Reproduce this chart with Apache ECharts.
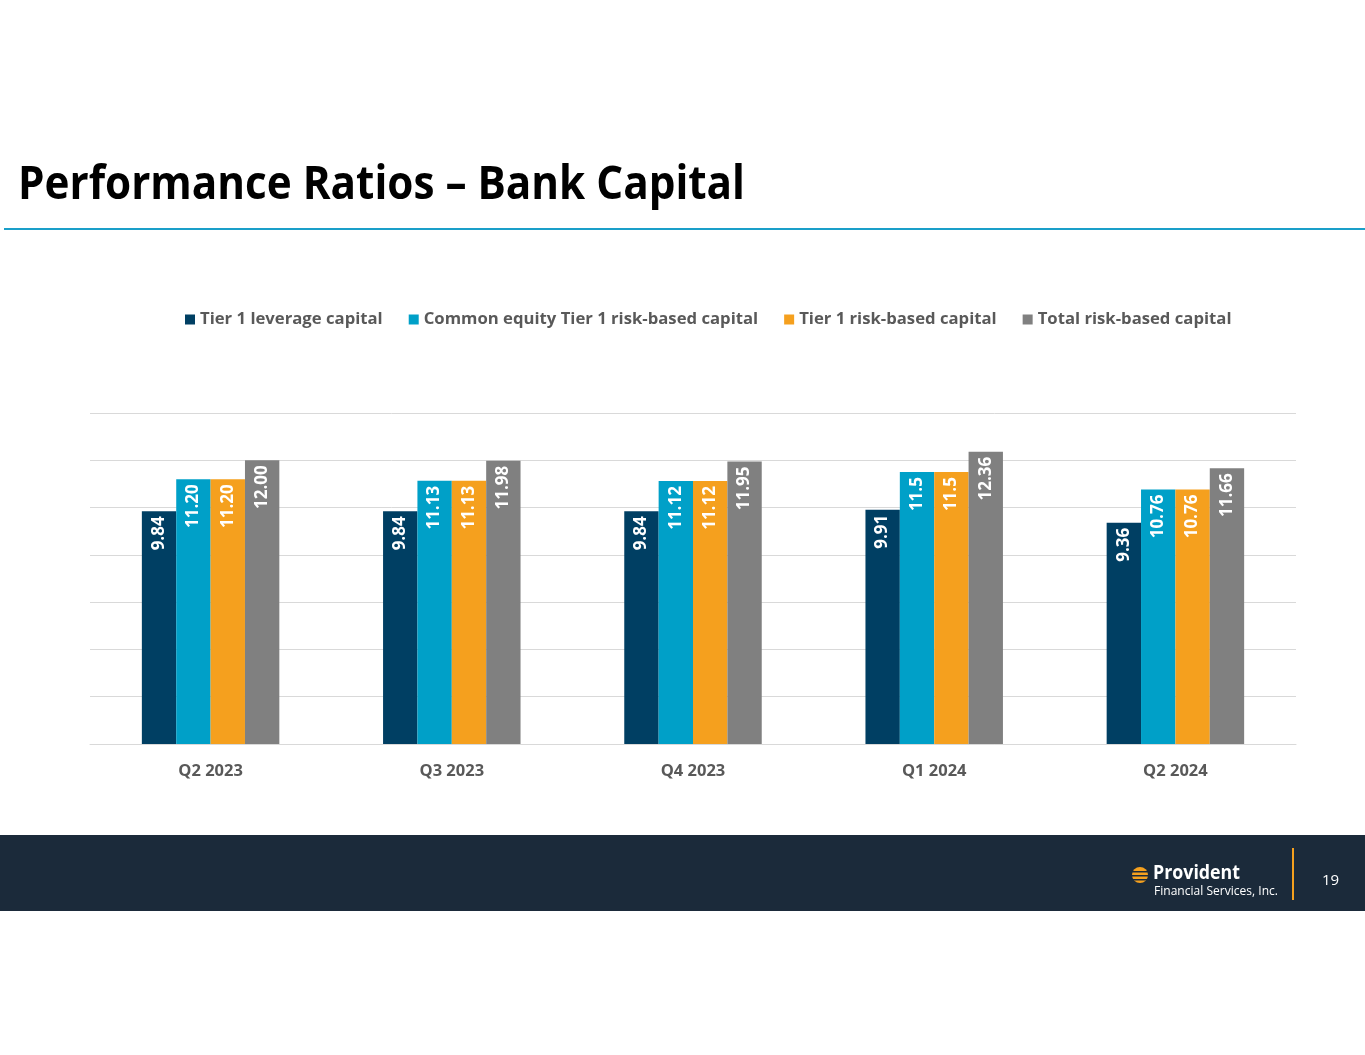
<!DOCTYPE html>
<html>
<head>
<meta charset="utf-8">
<script src="https://cdn.jsdelivr.net/npm/echarts@6/dist/echarts.min.js"></script>
<style>
html,body{margin:0;padding:0;background:#fff;}
#chart{width:1365px;height:1055px;}
</style>
</head>
<body>
<div id="chart"></div>
<script>
const categories = ['Q2 2023', 'Q3 2023', 'Q4 2023', 'Q1 2024', 'Q2 2024'];
const seriesNames = ['Tier 1 leverage capital', 'Common equity Tier 1 risk-based capital', 'Tier 1 risk-based capital', 'Total risk-based capital'];
const tier1Leverage = [9.84, 9.84, 9.84, 9.91, 9.36];
const cet1 = [11.20, 11.13, 11.12, 11.5, 10.76];
const tier1RiskBased = [11.20, 11.13, 11.12, 11.5, 10.76];
const totalRiskBased = [12.00, 11.98, 11.95, 12.36, 11.66];
const tier1LeverageLabels = ['9.84', '9.84', '9.84', '9.91', '9.36'];
const cet1Labels = ['11.20', '11.13', '11.12', '11.5', '10.76'];
const tier1RiskBasedLabels = ['11.20', '11.13', '11.12', '11.5', '10.76'];
const totalRiskBasedLabels = ['12.00', '11.98', '11.95', '12.36', '11.66'];
const colors = ['#003f63', '#00a0c8', '#f5a01e', '#808080'];

const FONT = '"Open Sans", sans-serif';
const TITLE = 'Performance Ratios – Bank Capital';
const TITLE_FONT = 'bold 47px "Open Sans", sans-serif';

function fitScale(text, font, target) {
  const c = document.createElement('canvas').getContext('2d');
  c.font = font;
  const w = c.measureText(text).width;
  return w > 0 ? target / w : 1;
}
const titleScale = fitScale(TITLE, TITLE_FONT, 727);
const logoScale = fitScale('Provident', 'bold 20px "Open Sans", sans-serif', 87);
const subScale = fitScale('Financial Services, Inc.', '13px "Open Sans", sans-serif', 124);

function mk(name, data, labels, color) {
  return {
    name: name, type: 'bar', data: data,
    barGap: '0%', barCategoryGap: '43%',
    itemStyle: { color: color },
    label: {
      show: true, position: 'insideTop', rotate: 90, align: 'right', verticalAlign: 'middle',
      distance: 5,
      color: '#ffffff', fontSize: 17, fontWeight: 'bold', fontFamily: FONT,
      formatter: function (p) { return labels[p.dataIndex]; }
    }
  };
}

const chart = echarts.init(document.getElementById('chart'));
chart.setOption({
  animation: false,
  backgroundColor: '#ffffff',
  legend: {
    top: 306, left: 180,
    itemWidth: 10, itemHeight: 10, itemGap: 26,
    icon: 'rect',
    textStyle: { color: '#595959', fontSize: 16.7, fontWeight: 'bold', fontFamily: FONT },
    data: seriesNames
  },
  grid: { left: 90, right: 69, top: 413, bottom: 311, containLabel: false },
  xAxis: {
    type: 'category', data: categories,
    axisLine: { lineStyle: { color: '#d9d9d9' } },
    axisTick: { show: false },
    axisLabel: { color: '#595959', fontSize: 16.5, fontWeight: 'bold', fontFamily: FONT, margin: 19 }
  },
  yAxis: {
    type: 'value', min: 0, max: 14, interval: 2,
    axisLabel: { show: false },
    axisLine: { show: false }, axisTick: { show: false },
    splitLine: { lineStyle: { color: '#d9d9d9' } }
  },
  series: [
    mk(seriesNames[0], tier1Leverage, tier1LeverageLabels, colors[0]),
    mk(seriesNames[1], cet1, cet1Labels, colors[1]),
    mk(seriesNames[2], tier1RiskBased, tier1RiskBasedLabels, colors[2]),
    mk(seriesNames[3], totalRiskBased, totalRiskBasedLabels, colors[3])
  ],
  graphic: [
    { type: 'text', x: 18, y: 162, scaleX: titleScale, style: { text: TITLE, fill: '#000000', font: TITLE_FONT } },
    { type: 'rect', shape: { x: 4, y: 228, width: 1361, height: 2 }, style: { fill: '#1a9fc9' } },
    { type: 'rect', shape: { x: 0, y: 835, width: 1365, height: 76 }, style: { fill: '#1b2a3a' } },
    { type: 'circle', shape: { cx: 1140, cy: 875, r: 8 }, style: { fill: '#f5a01e' } },
    { type: 'rect', shape: { x: 1131, y: 871, width: 18, height: 1.5 }, style: { fill: '#1b2a3a' } },
    { type: 'rect', shape: { x: 1131, y: 875, width: 18, height: 1.5 }, style: { fill: '#1b2a3a' } },
    { type: 'rect', shape: { x: 1131, y: 879, width: 18, height: 1.5 }, style: { fill: '#1b2a3a' } },
    { type: 'text', x: 1153, y: 863, scaleX: logoScale, style: { text: 'Provident', fill: '#ffffff', font: 'bold 20px "Open Sans", sans-serif' } },
    { type: 'text', x: 1154, y: 885, scaleX: subScale, style: { text: 'Financial Services, Inc.', fill: '#ffffff', font: '13px "Open Sans", sans-serif' } },
    { type: 'rect', shape: { x: 1292, y: 848, width: 2, height: 52 }, style: { fill: '#f5a01e' } },
    { type: 'text', x: 1322, y: 873, style: { text: '19', fill: '#ffffff', font: '15px "Open Sans", sans-serif' } }
  ]
});
</script>
</body>
</html>
